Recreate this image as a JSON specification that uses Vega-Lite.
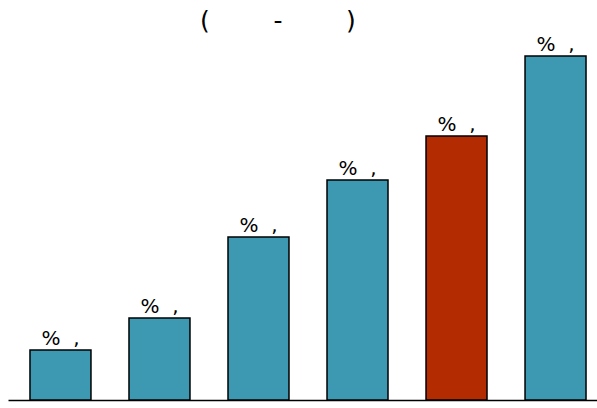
{
  "$schema": "https://vega.github.io/schema/vega-lite/v6.json",
  "autosize": "none",
  "width": 600,
  "height": 360,
  "padding": {"left": 8, "top": 40, "right": 0, "bottom": 8},
  "title": {
    "text": "(\u2007\u2007\u2007\u2007-\u2007\u2007\u2007\u2007)",
    "anchor": "start",
    "dx": 192,
    "dy": 29,
    "baseline": "alphabetic",
    "offset": 10,
    "font": "DejaVu Sans",
    "fontSize": 25,
    "fontWeight": "normal",
    "color": "black"
  },
  "data": {
    "values": [
      {"year": "2018", "value": 5.0},
      {"year": "2019", "value": 8.2},
      {"year": "2020", "value": 16.3},
      {"year": "2021", "value": 22.0},
      {"year": "2022", "value": 26.4},
      {"year": "2023", "value": 34.4}
    ]
  },
  "encoding": {
    "x": {
      "field": "year",
      "type": "ordinal",
      "sort": null,
      "scale": {"paddingInner": 0.384, "paddingOuter": 0.222},
      "axis": {"title": null, "labels": false, "ticks": false, "domainColor": "black", "domainWidth": 1.5}
    },
    "y": {
      "field": "value",
      "type": "quantitative",
      "scale": {"domain": [0, 36], "nice": false, "zero": true},
      "axis": null
    }
  },
  "layer": [
    {
      "mark": {"type": "bar", "stroke": "black", "strokeWidth": 1.5},
      "encoding": {
        "color": {
          "condition": {"test": "datum.year == '2022'", "value": "#b32b00"},
          "value": "#3d98b1"
        }
      }
    },
    {
      "mark": {"type": "text", "baseline": "alphabetic", "dy": -5.5, "fontSize": 20, "font": "DejaVu Sans", "color": "black"},
      "encoding": {"text": {"value": "%\u2007,"}}
    }
  ],
  "config": {"view": {"stroke": null}}
}
